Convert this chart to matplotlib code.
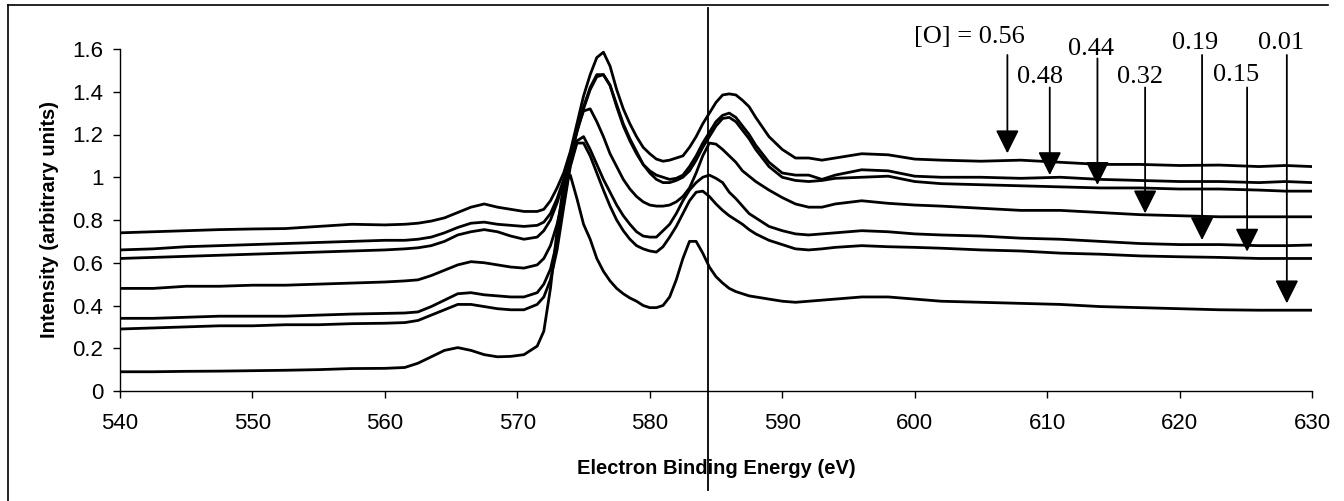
import matplotlib
matplotlib.use('Agg')
import matplotlib.pyplot as plt
from matplotlib.lines import Line2D
from matplotlib.ticker import FuncFormatter

# energy grid (eV) shared by all spectra
energy = [540, 542.5, 545, 547.5, 550, 552.5, 555, 557.5, 560, 561.5, 562.5, 563.5,
          564.5, 565.5, 566.5, 567.5, 568.5, 569.5, 570.5, 571.5, 572, 572.5, 573,
          573.5, 574, 574.5, 575, 575.5, 576, 576.5, 577, 577.5, 578, 578.5, 579,
          579.5, 580, 580.5, 581, 581.5, 582, 582.5, 583, 583.5, 584, 584.5, 585,
          585.5, 586, 586.5, 587, 587.5, 588, 589, 590, 591, 592, 593, 594, 596,
          598, 600, 602, 605, 608, 611, 614, 617, 620, 623, 626, 628, 630]

o_056 = [0.74, 0.745, 0.75, 0.755, 0.758, 0.76, 0.77, 0.78, 0.777, 0.78, 0.785, 0.795,
         0.81, 0.835, 0.86, 0.875, 0.86, 0.85, 0.84, 0.84, 0.85, 0.89, 0.95,
         1.02, 1.12, 1.25, 1.38, 1.48, 1.56, 1.585, 1.52, 1.41, 1.32, 1.25, 1.19,
         1.14, 1.11, 1.085, 1.075, 1.08, 1.09, 1.10, 1.14, 1.19, 1.25, 1.30, 1.35,
         1.385, 1.39, 1.385, 1.36, 1.33, 1.28, 1.19, 1.13, 1.09, 1.09, 1.08, 1.09, 1.11,
         1.105, 1.085, 1.08, 1.075, 1.08, 1.07, 1.06, 1.06, 1.055, 1.057, 1.05, 1.055, 1.05]

o_048 = [0.66, 0.665, 0.675, 0.68, 0.685, 0.69, 0.695, 0.70, 0.705, 0.705, 0.71, 0.72,
         0.74, 0.765, 0.785, 0.79, 0.78, 0.775, 0.77, 0.775, 0.79, 0.83, 0.90,
         0.99, 1.10, 1.22, 1.33, 1.42, 1.48, 1.48, 1.43, 1.33, 1.24, 1.17, 1.11,
         1.06, 1.03, 1.01, 1.00, 0.99, 0.995, 1.01, 1.05, 1.10, 1.16, 1.21, 1.26,
         1.29, 1.30, 1.28, 1.24, 1.20, 1.15, 1.07, 1.02, 1.01, 1.01, 0.99, 1.01, 1.035,
         1.03, 1.005, 1.00, 1.00, 0.995, 1.00, 0.99, 0.985, 0.98, 0.98, 0.975, 0.98, 0.975]

o_044 = [0.62, 0.625, 0.63, 0.635, 0.64, 0.645, 0.65, 0.655, 0.66, 0.665, 0.67, 0.68,
         0.70, 0.73, 0.745, 0.755, 0.745, 0.725, 0.71, 0.72, 0.75, 0.80, 0.88,
         0.98, 1.09, 1.21, 1.32, 1.41, 1.47, 1.48, 1.43, 1.34, 1.25, 1.18, 1.12,
         1.06, 1.02, 0.99, 0.975, 0.975, 0.985, 1.00, 1.03, 1.08, 1.14, 1.19, 1.24,
         1.275, 1.28, 1.26, 1.22, 1.18, 1.13, 1.05, 1.00, 0.985, 0.98, 0.985, 0.995, 1.00,
         1.005, 0.98, 0.97, 0.965, 0.96, 0.955, 0.95, 0.95, 0.945, 0.945, 0.94, 0.935, 0.935]

o_032 = [0.48, 0.48, 0.49, 0.49, 0.495, 0.495, 0.50, 0.505, 0.51, 0.515, 0.52, 0.54,
         0.565, 0.59, 0.605, 0.60, 0.59, 0.58, 0.575, 0.59, 0.62, 0.68, 0.78,
         0.92, 1.08, 1.22, 1.31, 1.32, 1.26, 1.19, 1.11, 1.05, 0.99, 0.945, 0.91,
         0.885, 0.87, 0.865, 0.865, 0.87, 0.885, 0.91, 0.95, 1.02, 1.10, 1.16, 1.155,
         1.13, 1.10, 1.07, 1.03, 1.005, 0.98, 0.94, 0.905, 0.875, 0.86, 0.86, 0.875, 0.89,
         0.878, 0.87, 0.865, 0.855, 0.845, 0.845, 0.835, 0.825, 0.82, 0.815, 0.815, 0.815, 0.815]

o_019 = [0.34, 0.34, 0.345, 0.35, 0.35, 0.35, 0.355, 0.36, 0.363, 0.365, 0.37, 0.395,
         0.425, 0.455, 0.46, 0.45, 0.445, 0.44, 0.44, 0.46, 0.50, 0.57, 0.70,
         0.88, 1.06, 1.17, 1.19, 1.13, 1.06, 0.99, 0.93, 0.87, 0.82, 0.78, 0.745,
         0.725, 0.72, 0.72, 0.75, 0.78, 0.83, 0.89, 0.94, 0.975, 1.00, 1.01, 0.995,
         0.975, 0.93, 0.90, 0.865, 0.83, 0.81, 0.77, 0.75, 0.735, 0.73, 0.735, 0.74, 0.75,
         0.745, 0.735, 0.73, 0.725, 0.715, 0.71, 0.70, 0.69, 0.685, 0.685, 0.68, 0.68, 0.683]

o_015 = [0.29, 0.295, 0.30, 0.305, 0.305, 0.31, 0.31, 0.315, 0.317, 0.32, 0.33, 0.355,
         0.38, 0.405, 0.405, 0.395, 0.385, 0.38, 0.38, 0.405, 0.44, 0.52, 0.66,
         0.86, 1.05, 1.16, 1.16, 1.10, 1.02, 0.94, 0.865, 0.80, 0.75, 0.71, 0.68,
         0.665, 0.655, 0.65, 0.675, 0.72, 0.77, 0.83, 0.89, 0.93, 0.935, 0.91, 0.875,
         0.845, 0.82, 0.80, 0.78, 0.755, 0.735, 0.705, 0.685, 0.665, 0.66, 0.665, 0.672, 0.68,
         0.675, 0.672, 0.668, 0.66, 0.655, 0.645, 0.64, 0.632, 0.628, 0.625, 0.62, 0.62, 0.62]

o_001 = [0.09, 0.09, 0.092, 0.093, 0.095, 0.097, 0.10, 0.105, 0.106, 0.11, 0.13, 0.16,
         0.19, 0.203, 0.19, 0.17, 0.16, 0.162, 0.17, 0.21, 0.28, 0.48, 0.75,
         0.97, 1.01, 0.90, 0.78, 0.71, 0.62, 0.56, 0.515, 0.48, 0.455, 0.435, 0.42,
         0.40, 0.39, 0.39, 0.40, 0.44, 0.52, 0.62, 0.70, 0.70, 0.645, 0.58, 0.535,
         0.505, 0.48, 0.465, 0.455, 0.445, 0.44, 0.43, 0.42, 0.415, 0.42, 0.425, 0.43, 0.44,
         0.44, 0.43, 0.42, 0.415, 0.41, 0.405, 0.395, 0.39, 0.385, 0.38, 0.378, 0.378, 0.378]

spectra = [o_056, o_048, o_044, o_032, o_019, o_015, o_001]

# labels and arrows: (text, text x, text y, arrow x, arrow top, arrow tip)
labels = ['[O] = 0.56', '0.48', '0.44', '0.32', '0.19', '0.15', '0.01']
label_x = [604.1, 609.5, 613.3, 617.0, 621.2, 624.3, 627.7]
label_y = [1.657, 1.467, 1.598, 1.467, 1.63, 1.478, 1.63]
arrow_x = [607.0, 610.2, 613.8, 617.4, 621.7, 625.1, 628.1]
arrow_top = [1.572, 1.42, 1.556, 1.42, 1.572, 1.42, 1.572]
arrow_tip = [1.112, 1.01, 0.964, 0.831, 0.706, 0.652, 0.41]

marker_energy = 584.43

W, H = 1344, 501
fig = plt.figure(figsize=(W / 100, H / 100), dpi=100)
ax = fig.add_axes([120 / W, 1 - 391 / H, (1312 - 120) / W, (391 - 49) / H])

for s in spectra:
    ax.plot(energy, s, color='black', lw=2.0, solid_joinstyle='round')

ax.set_xlim(540, 630)
ax.set_ylim(0, 1.6)
ax.set_xticks(range(540, 631, 10))
ax.set_yticks([0, 0.2, 0.4, 0.6, 0.8, 1.0, 1.2, 1.4, 1.6])
ax.yaxis.set_major_formatter(FuncFormatter(lambda v, p: f'{v:g}'))
for side in ['top', 'right']:
    ax.spines[side].set_visible(False)
for side in ['left', 'bottom']:
    ax.spines[side].set_linewidth(1.0)
ax.tick_params(axis='x', direction='out', length=5, width=1, pad=11,
               labelsize=16)
ax.tick_params(axis='y', direction='out', length=5, width=1, pad=7,
               labelsize=16)
for lab in ax.get_xticklabels() + ax.get_yticklabels():
    lab.set_fontfamily('Liberation Sans')

ax.set_xlabel('Electron Binding Energy (eV)', fontsize=14.5, fontweight='bold',
              fontfamily='Liberation Sans')
ax.xaxis.set_label_coords(0.5, -(468 - 391) / (391 - 49), transform=ax.transAxes)
ax.xaxis.label.set_va('center')
ax.set_ylabel('Intensity (arbitrary units)', fontsize=14.5, fontweight='bold',
              fontfamily='Liberation Sans')
ax.yaxis.set_label_coords(-(120 - 50) / (1312 - 120), 0.5, transform=ax.transAxes)
ax.yaxis.label.set_va('center')

for t, tx, ty, xa, y0, y1 in zip(labels, label_x, label_y, arrow_x, arrow_top, arrow_tip):
    ax.text(tx, ty, t, ha='center', va='center', fontsize=19,
            fontfamily='Liberation Serif', clip_on=False)
    ax.annotate('', xy=(xa, y1), xytext=(xa, y0), annotation_clip=False,
                arrowprops=dict(arrowstyle='-|>,head_length=0.6,head_width=0.3',
                                mutation_scale=24, color='black', lw=1.3,
                                shrinkA=0, shrinkB=0))

# vertical marker line running past the plot area
xm = ax.transData.transform((marker_energy, 0))[0] / W
fig.add_artist(Line2D([xm, xm], [1 - 490 / H, 1 - 8 / H], color='black', lw=1.3))

# outer frame (top and left edges only)
fig.add_artist(Line2D([8 / W, 1328 / W], [1 - 5 / H, 1 - 5 / H], color='black', lw=1.2))
fig.add_artist(Line2D([8 / W, 8 / W], [0, 1 - 5 / H], color='black', lw=1.2))

fig.savefig('out.png', dpi=100)
